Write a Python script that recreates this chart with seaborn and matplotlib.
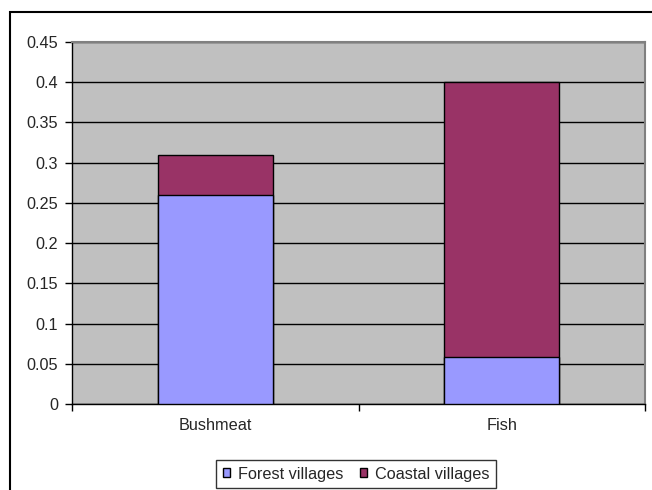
import pandas as pd
import seaborn as sns
import matplotlib.pyplot as plt
from matplotlib.patches import Rectangle, Patch

categories = ['Bushmeat', 'Fish']
forest = [0.26, 0.059]
coastal = [0.05, 0.341]
yticks = [0, 0.05, 0.1, 0.15, 0.2, 0.25, 0.3, 0.35, 0.4, 0.45]

forest_color = '#9999FF'
coastal_color = '#993366'

df = pd.DataFrame({'food': categories, 'forest': forest, 'coastal': coastal})
df['total'] = df['forest'] + df['coastal']

sns.set_style('white')
plt.rcParams['font.family'] = ['Liberation Sans', 'DejaVu Sans']
plt.rcParams['font.size'] = 11.7

fig = plt.figure(figsize=(6.52, 4.9), dpi=100)
ax = fig.add_axes([72 / 652, 1 - 404 / 490, (645 - 72) / 652, (404 - 42) / 490])
ax.set_facecolor('#C0C0C0')

# stacked: total in coastal colour, forest drawn over it
sns.barplot(data=df, x='food', y='total', color=coastal_color, saturation=1,
            width=0.4, edgecolor='black', linewidth=1, ax=ax, zorder=3)
sns.barplot(data=df, x='food', y='forest', color=forest_color, saturation=1,
            width=0.4, edgecolor='black', linewidth=1, ax=ax, zorder=3)

ax.set_ylim(0, 0.45)
ax.set_xlim(-0.5, 1.5)
ax.set_yticks(yticks)
ax.set_yticklabels([f'{v:g}' for v in yticks])
ax.yaxis.grid(True, color='black', linewidth=1)
ax.set_axisbelow(True)
ax.set_xlabel('')
ax.set_ylabel('')

ax.tick_params(axis='y', direction='out', length=5, width=1, color='black', pad=5, left=True)
ax.set_xticks([-0.5, 0.5, 1.5], minor=True)
ax.tick_params(axis='x', which='major', length=0, pad=10)
ax.tick_params(axis='x', which='minor', direction='out', length=5, width=1, color='black', bottom=True)

for side in ['top', 'right']:
    ax.spines[side].set_color('#808080')
    ax.spines[side].set_linewidth(1.5)
for side in ['left', 'bottom']:
    ax.spines[side].set_color('black')
    ax.spines[side].set_linewidth(1)

handles = [Patch(facecolor=forest_color, edgecolor='black', label='Forest villages'),
           Patch(facecolor=coastal_color, edgecolor='black', label='Coastal villages')]
leg = fig.legend(handles=handles, loc='center', ncol=2, bbox_to_anchor=(356 / 652, 1 - 474 / 490),
                 frameon=True, fancybox=False, handlelength=0.45, handleheight=0.45,
                 handletextpad=0.5, columnspacing=1.0, borderpad=0.4, fontsize=11.7)
leg.get_frame().set_edgecolor('black')
leg.get_frame().set_linewidth(1)

fig.patches.append(Rectangle((10 / 652, -0.1), 1, 1 - 12 / 490 + 0.1, transform=fig.transFigure,
                             fill=False, edgecolor='black', linewidth=1.5))

fig.savefig('out.png', dpi=100)
